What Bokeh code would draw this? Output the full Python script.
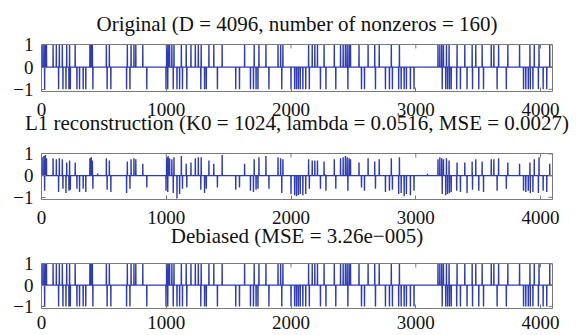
import numpy as np
from bokeh.plotting import figure
from bokeh.models import Range1d, FixedTicker, Title
from bokeh.layouts import column
from bokeh.embed import file_html
from bokeh.resources import INLINE

N = 4096

pos_idx = [5, 19, 31, 40, 93, 119, 143, 167, 202, 225,
           270, 388, 399, 408, 520, 544, 688, 718, 741, 756,
           812, 1003, 1015, 1027, 1045, 1062, 1121, 1160, 1198, 1233,
           1257, 1280, 1342, 1381, 1448, 1628, 1705, 1743, 1799, 1896,
           1917, 1935, 2141, 2170, 2191, 2212, 2265, 2347, 2397, 2418,
           2436, 2450, 2465, 2477, 2545, 2618, 2671, 2707, 2804, 2869,
           3178, 3193, 3208, 3222, 3246, 3267, 3331, 3393, 3452, 3481,
           3532, 3605, 3626, 3664, 3738, 3832, 3915, 3950, 3988, 4074]
neg_idx = [25, 137, 172, 196, 220, 231, 284, 305, 334, 355,
           412, 526, 556, 682, 709, 844, 998, 1012, 1056, 1086,
           1107, 1130, 1165, 1277, 1307, 1321, 1410, 1557, 1587, 1675,
           1699, 1720, 1735, 1823, 1926, 2000, 2029, 2044, 2059, 2074,
           2095, 2118, 2147, 2236, 2280, 2359, 2456, 2565, 2589, 2677,
           2757, 2789, 2813, 2863, 2883, 2907, 2925, 2957, 2986, 3212,
           3240, 3255, 3270, 3284, 3328, 3358, 3411, 3455, 3505, 3543,
           3652, 3726, 3864, 3882, 3902, 3918, 3939, 3983, 4021, 4050]

# L1 reconstruction amplitudes
l1_pos_amp = [0.85, 0.9, 0.95, 0.8, 0.8, 0.75, 0.8, 0.75, 0.6, 0.7,
              0.6, 0.8, 0.85, 0.7, 0.8, 0.7, 0.65, 0.75, 0.8, 0.75,
              0.55, 0.85, 0.9, 0.8, 0.75, 0.85, 0.9, 0.55, 0.6, 0.8,
              0.85, 0.85, 0.7, 0.55, 0.95, 0.55, 0.75, 0.85, 0.9, 0.85,
              0.8, 0.75, 0.75, 0.7, 0.7, 0.7, 0.65, 0.75, 0.8, 0.85,
              0.9, 0.85, 0.8, 0.75, 0.6, 0.8, 0.65, 0.75, 0.8, 0.85,
              0.75, 0.85, 0.8, 0.75, 0.8, 0.7, 0.6, 0.6, 0.65, 0.75,
              0.65, 0.75, 0.75, 0.8, 0.6, 0.55, 0.6, 0.75, 0.85, 0.55]
l1_neg_amp = [0.7, 0.75, 0.6, 0.8, 0.7, 0.65, 0.6, 0.75, 0.6, 0.75,
              0.6, 0.65, 0.75, 0.8, 0.6, 0.55, 0.7, 0.75, 0.8, 1.05,
              0.85, 0.6, 0.55, 0.65, 0.8, 0.6, 0.55, 0.65, 0.55, 0.7,
              0.75, 0.65, 0.6, 0.6, 0.8, 0.85, 0.9, 0.95, 0.9, 0.85,
              0.9, 0.85, 0.6, 0.6, 0.7, 0.6, 0.7, 0.55, 0.7, 0.6,
              0.75, 0.7, 0.65, 0.85, 0.8, 0.95, 0.85, 0.9, 0.7, 0.85,
              0.9, 0.85, 0.8, 0.75, 0.7, 0.75, 0.8, 0.65, 0.7, 0.75,
              0.7, 0.6, 0.7, 0.75, 0.7, 0.8, 0.75, 0.8, 0.7, 0.75]
l1_small_idx = [450, 2277, 3094]
l1_small_amp = [0.1, 0.05, 0.08]

titles = ["Original (D = 4096, number of nonzeros = 160)",
          "L1 reconstruction (K0 = 1024, lambda = 0.0516, MSE = 0.0027)",
          "Debiased (MSE = 3.26e\u2212005)"]
x_ticks = [0, 1000, 2000, 3000, 4000]
y_ticks = [-1, 0, 1]

orig = np.zeros(N)
orig[pos_idx] = 1.0
orig[neg_idx] = -1.0

l1 = np.zeros(N)
l1[pos_idx] = l1_pos_amp
l1[neg_idx] = -np.array(l1_neg_amp)
l1[l1_small_idx] = l1_small_amp

deb = orig.copy()

signals = [orig, l1, deb]
FONT = "Liberation Serif"
TITLE_SIZE = "21px"
BLUE = "#2f3cb0"
GREY = "#7a7a7a"
INK = "#111111"
Y0, Y1 = -1.1, 1.02
FW = 511

# per panel: top border, frame height, bottom border, x-label standoff,
# standoff of the next panel's title (set in this panel's bottom margin)
specs = [dict(top=43, fh=47, bottom=48, st=11, next_st=-15),
         dict(top=14, fh=46, bottom=52, st=11, next_st=-5.5),
         dict(top=12, fh=45, bottom=28, st=7, next_st=None)]


def style_title(t):
    t.text_font = FONT
    t.text_font_size = TITLE_SIZE
    t.text_font_style = "normal"
    t.align = "center"
    t.text_color = INK


figs = []
for i, (sig, sp) in enumerate(zip(signals, specs)):
    p = figure(frame_width=FW, frame_height=sp["fh"],
               min_border_left=41, min_border_right=25,
               min_border_top=sp["top"], min_border_bottom=sp["bottom"],
               x_range=Range1d(0, N), y_range=Range1d(Y0, Y1),
               output_backend="svg", toolbar_location=None)
    if i == 0:
        p.title.text = titles[0]
        style_title(p.title)
        p.title.standoff = 17.5
    p.grid.visible = False
    p.outline_line_color = GREY
    p.outline_line_width = 1
    p.background_fill_color = "white"
    p.border_fill_color = "white"

    p.line(np.arange(N), sig, line_color=BLUE, line_width=1.4)

    # inward ticks on the top and right edges of the box
    p.scatter(x_ticks, [Y1] * len(x_ticks), marker="dash", angle=np.pi / 2,
              size=8, line_color=GREY, line_width=1)
    p.scatter([N] * len(y_ticks), y_ticks, marker="dash",
              size=8, line_color=GREY, line_width=1)

    for ax in p.xaxis:
        ax.ticker = FixedTicker(ticks=x_ticks)
    for ax in p.yaxis:
        ax.ticker = FixedTicker(ticks=y_ticks)
        ax.major_label_overrides = {-1: "\u22121", 0: "0", 1: "1"}
    for ax in list(p.xaxis) + list(p.yaxis):
        ax.major_label_text_font = FONT
        ax.major_label_text_font_size = "19px"
        ax.major_label_text_color = INK
        ax.axis_line_color = None
        ax.major_tick_in = 4
        ax.major_tick_out = 0
        ax.major_tick_line_color = GREY
        ax.minor_tick_line_color = None
    p.xaxis.major_label_standoff = sp["st"]
    p.yaxis.major_label_standoff = 8

    if sp["next_st"] is not None:
        t = Title(text=titles[i + 1], vertical_align="top", standoff=sp["next_st"])
        style_title(t)
        p.add_layout(t, "below")
    figs.append(p)

layout = column(*figs, spacing=0)
open("out.html", "w").write(file_html(layout, INLINE))
